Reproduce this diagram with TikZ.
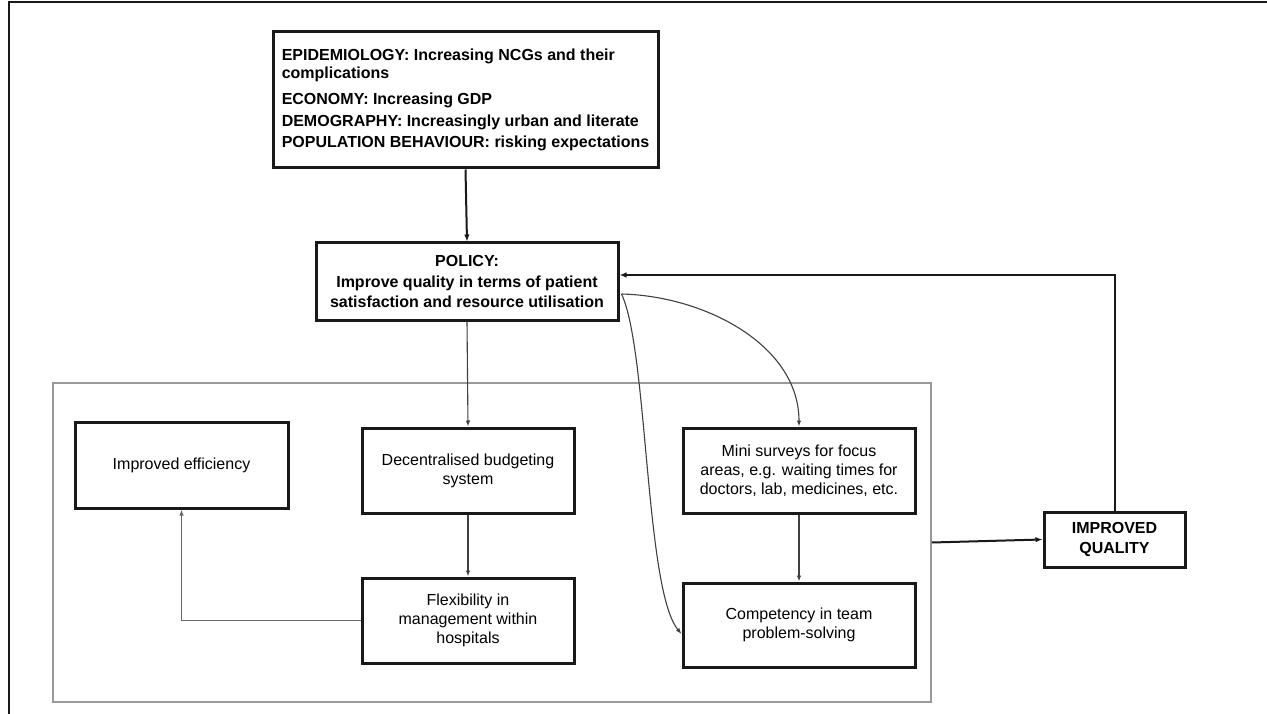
\documentclass[tikz,border=0pt]{standalone}
\usepackage{fontspec}
\setmainfont{Liberation Sans}
\usetikzlibrary{arrows.meta,calc}

\begin{document}
\begin{tikzpicture}[x=1pt,y=-1pt,
  heavybox/.style={draw=black!90,line width=3pt,rectangle,inner sep=0pt,
    font=\fontsize{16}{18}\selectfont,align=center},
  boldbox/.style={heavybox,font=\fontsize{16}{20.5}\selectfont\bfseries},
  panelbox/.style={draw=black!40,line width=1.5pt,rectangle,inner sep=0pt},
  thinarrow/.style={draw=black!75,line width=1.1pt,-{Latex[length=6pt,width=4.5pt]}},
  thickarrow/.style={draw=black!90,line width=2pt,-{Latex[length=7pt,width=5.5pt]}},
  frameline/.style={draw=black!90,line width=2.5pt}
]
\path[use as bounding box,fill=white] (0,0) rectangle (1267,714);

% outer frame: top and left rules
\coordinate (fa) at (9,2);
\coordinate (fb) at (1267,2);
\coordinate (fc) at (9,714);
\draw[frameline] (fb) -- (fa) -- (fc);

% grouping panel
\node[panelbox,minimum width=878,minimum height=319] (panel) at (492,542.5) {};

% context box
\node[heavybox,minimum width=385,minimum height=136,align=left,
  font=\fontsize{16}{18}\selectfont\bfseries] (env) at (465.5,100)
  {EPIDEMIOLOGY: Increasing NCGs and their\\complications\\[8pt]
   ECONOMY: Increasing GDP\\[3.5pt]
   DEMOGRAPHY: Increasingly urban and literate\\[3.5pt]
   POPULATION BEHAVIOUR: risking expectations};

% policy box
\node[boldbox,minimum width=302,minimum height=77] (policy) at (467,281.5)
  {POLICY:\\Improve quality in terms of patient\\satisfaction and resource utilisation};

% inner boxes
\node[heavybox,minimum width=213,minimum height=86,font=\fontsize{16}{19}\selectfont] (eff) at (181.5,465) {Improved efficiency};
\node[heavybox,minimum width=212,minimum height=85,font=\fontsize{16}{19}\selectfont] (dec) at (468,470.5) {Decentralised budgeting\\system};
\node[heavybox,minimum width=212,minimum height=85,font=\fontsize{16}{19}\selectfont] (flex) at (468,620.5) {Flexibility in\\management within\\hospitals};
\node[heavybox,minimum width=232,minimum height=85,font=\fontsize{16}{19}\selectfont] (mini) at (799,470.5) {Mini surveys for focus\\areas, e.g. waiting times for\\doctors, lab, medicines, etc.};
\node[heavybox,minimum width=232,minimum height=84,font=\fontsize{16}{19}\selectfont] (comp) at (799,625) {Competency in team\\problem-solving};

% outcome box
\node[boldbox,minimum width=141,minimum height=55] (iq) at (1114.5,539.5) {IMPROVED\\QUALITY};

% connectors
\draw[thickarrow] (env.south) -- (policy.north);
\draw[thinarrow] (policy.south) -- (dec.north);
\draw[thinarrow] (dec.south) -- (flex.north);
\draw[thinarrow,draw=black!60] (flex.west) -| (eff.south);
\draw[thinarrow] (mini.south) -- (comp.north);
\coordinate (pc) at ($(policy.east)+(2,12.5)$);
\draw[thinarrow] (pc) .. controls (705,296) and (799,345) .. (mini.north);
\draw[thinarrow] (pc) .. controls (648,350) and (645,590) .. ([yshift=-9pt]comp.west);
\draw[thickarrow] (panel.east) -- (iq.west);
\draw[thickarrow] (iq.north) |- ([yshift=6.5pt]policy.east);
\end{tikzpicture}
\end{document}
